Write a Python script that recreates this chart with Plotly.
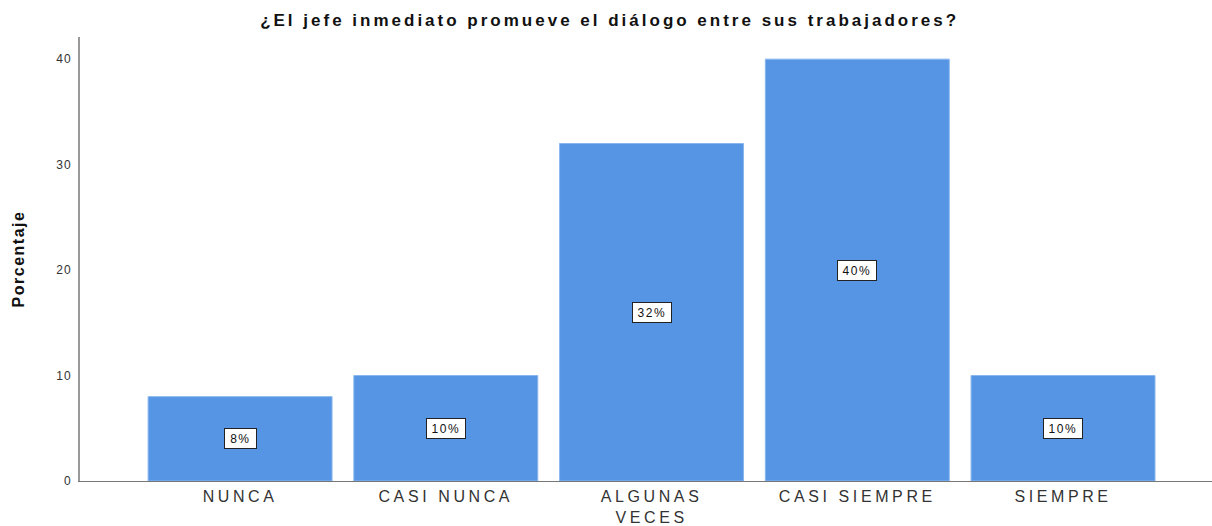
import plotly.graph_objects as go

categories = ["NUNCA", "CASI NUNCA", "ALGUNAS<br>VECES", "CASI SIEMPRE", "SIEMPRE"]
values = [8, 10, 32, 40, 10]
labels = ["8%", "10%", "32%", "40%", "10%"]
y_ticks = [0, 10, 20, 30, 40]

x_idx = list(range(len(categories)))
FONT = "Liberation Sans, Arial, sans-serif"

fig = go.Figure()
fig.add_trace(go.Bar(
    x=x_idx, y=values,
    marker=dict(color="#5595e4", line=dict(color="#8ab6ee", width=1)),
    width=0.894,
    hoverinfo="skip",
))

for xi, v, t in zip(x_idx, values, labels):
    fig.add_annotation(
        x=xi, y=v / 2, text=t, showarrow=False,
        font=dict(family=FONT, size=12, color="#111"),
        bgcolor="white", bordercolor="#222", borderwidth=1, borderpad=0,
        width=17 + 7 * len(t), height=19, align="center", valign="middle",
    )

fig.update_layout(
    width=1212, height=526,
    margin=dict(l=80, r=0, t=37, b=45, autoexpand=False),
    paper_bgcolor="white", plot_bgcolor="white",
    showlegend=False,
    title=dict(
        text="<b>¿El jefe inmediato promueve el diálogo entre sus trabajadores?</b>",
        x=0.503, xanchor="center", y=0.962, yanchor="middle",
        font=dict(family=FONT, size=17, color="#111"),
    ),
    xaxis=dict(
        range=[-0.778, 4.724], automargin=False,
        tickmode="array", tickvals=x_idx, ticktext=categories,
        showgrid=False, zeroline=False,
        showline=True, linecolor="#777", linewidth=1,
        ticks="", ticklen=0, ticklabelstandoff=1,
        tickfont=dict(family=FONT, size=16, color="#333"),
        fixedrange=True,
    ),
    yaxis=dict(
        range=[0, 42.1], automargin=False,
        tickmode="array", tickvals=y_ticks,
        showgrid=False, zeroline=False,
        showline=True, linecolor="#999", linewidth=2,
        ticks="", ticklen=0, ticklabelstandoff=4,
        tickfont=dict(family=FONT, size=12, color="#333"),
        title=dict(text="<b>Porcentaje</b>", standoff=30,
                   font=dict(family=FONT, size=16, color="#111")),
        fixedrange=True,
    ),
)

post = """
var s = document.createElement('style');
s.innerHTML = 'body{margin:0;overflow:hidden}'
  + ' .gtitle{letter-spacing:3px}'
  + ' .xtick text{letter-spacing:3.6px}'
  + ' .ytitle{letter-spacing:1.5px}'
  + ' .ytick text{letter-spacing:1px}'
  + ' .annotation-text{letter-spacing:1.5px}';
document.head.appendChild(s);
var gd = document.getElementById('{plot_id}');
if (!window.__redrawn) { window.__redrawn = true; Plotly.newPlot(gd, gd.data, gd.layout, {displayModeBar: false, responsive: false}); }
"""

fig.write_html("out.html", post_script=post, config={"displayModeBar": False})
